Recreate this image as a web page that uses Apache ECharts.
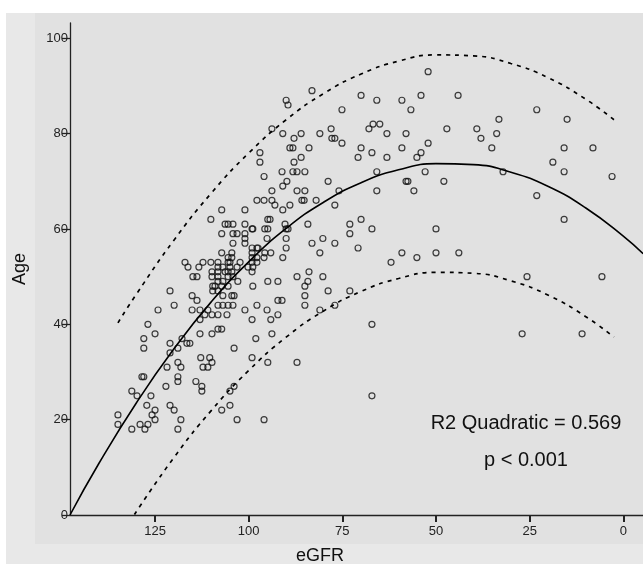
<!DOCTYPE html>
<html>
<head>
<meta charset="utf-8">
<title>Age vs eGFR</title>
<script src="https://cdn.jsdelivr.net/npm/echarts@6/dist/echarts.min.js"></script>
<style>
  html, body { margin: 0; padding: 0; background: #ffffff; }
  #chart { width: 643px; height: 564px; }
</style>
</head>
<body>
<div id="chart"></div>
<script>
// tick labels
var xTicks = [0, 25, 50, 75, 100, 125];
var yTicks = [0, 20, 40, 60, 80, 100];

// scatter points: [eGFR, Age]
var points = [
  [110.1, 62], [117.0, 53], [116.2, 52], [112.2, 53], [110.1, 53], [113.3, 52], [114.9, 50], [113.8, 50],
  [109.8, 51], [109.8, 50], [109.6, 48], [109.6, 47], [121.0, 47], [115.1, 46], [113.8, 45], [119.9, 44],
  [124.2, 43], [115.1, 43], [113.0, 43], [111.7, 42], [110.9, 43], [109.8, 42], [113.0, 41], [126.9, 40],
  [125.0, 38], [113.0, 38], [109.8, 38], [128.0, 37], [128.0, 35], [121.0, 36], [118.9, 35], [116.5, 36],
  [115.7, 36], [121.0, 34], [117.8, 37], [128.5, 29], [128.0, 29], [131.2, 26], [129.8, 25], [126.1, 25],
  [121.8, 31], [118.9, 32], [118.1, 31], [118.9, 29], [118.9, 28], [122.1, 27], [114.1, 28], [112.5, 27],
  [112.5, 26], [112.8, 33], [110.4, 33], [112.2, 31], [110.9, 31], [109.8, 32], [134.9, 21], [134.9, 19],
  [131.2, 18], [129.0, 19], [127.7, 18], [126.9, 19], [127.2, 23], [125.0, 22], [125.8, 21], [125.0, 20],
  [121.0, 23], [119.9, 22], [118.1, 20], [118.9, 18],
  [83.1, 89], [90.0, 87], [89.5, 86], [75.1, 85], [93.8, 81], [90.9, 80], [87.9, 79], [86.0, 80],
  [81.0, 80], [78.0, 81], [77.8, 79], [77.0, 79], [75.1, 78], [97.0, 76], [97.0, 74], [89.0, 77],
  [88.2, 77], [83.9, 77], [86.0, 75], [87.9, 74], [95.9, 71], [91.1, 72], [88.2, 72], [87.1, 72],
  [85.0, 72], [89.8, 70], [90.9, 69], [78.8, 70], [93.8, 68], [87.1, 68], [85.0, 68], [75.9, 68],
  [97.8, 66], [95.9, 66], [93.8, 66], [85.8, 66], [85.2, 66], [82.0, 66], [77.0, 65], [107.2, 64],
  [101.0, 64], [93.0, 65], [90.9, 64], [89.0, 65], [94.9, 62], [94.3, 62], [106.3, 61], [105.5, 61],
  [104.2, 61], [101.0, 61], [90.3, 61], [84.2, 61], [107.2, 59], [104.2, 59], [103.1, 59], [101.0, 59],
  [99.1, 60], [98.9, 60], [95.7, 60], [94.9, 60], [90.0, 60], [89.5, 60], [101.0, 58], [95.1, 58],
  [90.0, 58], [80.2, 58], [83.1, 57], [77.0, 57], [104.2, 57], [101.0, 57], [99.1, 56], [97.8, 56],
  [97.5, 56], [90.0, 56], [107.2, 55], [104.5, 55], [99.1, 55], [95.7, 55], [94.1, 55], [81.0, 55],
  [105.5, 54], [104.5, 54], [99.1, 54], [97.8, 54], [95.9, 54], [90.9, 54], [108.2, 53], [105.5, 53],
  [105.0, 53], [102.3, 53], [99.1, 53], [97.8, 53], [108.2, 52], [106.9, 52], [105.0, 52], [103.1, 52],
  [100.2, 52], [98.9, 52], [108.2, 51], [106.3, 51], [105.5, 51], [104.5, 51], [99.1, 51], [108.2, 50],
  [105.5, 50], [104.2, 50], [108.2, 49], [106.9, 49], [102.9, 49], [109.0, 48], [107.2, 48], [105.5, 48],
  [108.2, 47], [106.9, 46], [104.5, 46], [103.9, 46], [108.2, 44], [106.9, 44], [105.5, 44], [104.2, 44],
  [108.2, 42], [105.8, 42], [108.2, 39], [107.2, 39], [87.1, 50], [83.9, 51], [84.2, 49], [85.0, 48],
  [80.2, 50], [78.8, 47], [85.0, 46], [85.0, 44], [98.9, 48], [94.9, 49], [92.2, 49], [92.2, 45],
  [91.1, 45], [97.8, 44], [101.0, 43], [95.1, 43], [92.2, 42], [99.1, 41], [94.1, 41], [81.0, 43],
  [93.8, 38], [103.9, 35], [98.1, 37], [99.1, 33], [94.9, 32], [87.1, 32], [103.9, 27], [105.0, 26],
  [105.0, 23], [107.2, 22], [103.1, 20], [95.9, 20],
  [52.1, 93], [70.0, 88], [65.8, 87], [59.1, 87], [54.0, 88], [44.1, 88], [56.7, 85], [33.2, 83],
  [23.1, 85], [15.0, 83], [66.8, 82], [65.0, 82], [67.9, 81], [63.1, 80], [58.0, 80], [47.1, 81],
  [39.1, 81], [38.0, 79], [33.8, 80], [70.0, 77], [70.8, 75], [67.1, 76], [63.1, 75], [59.1, 77],
  [54.0, 76], [55.1, 75], [52.1, 78], [35.1, 77], [15.8, 77], [8.1, 77], [18.8, 74], [15.8, 72],
  [3.0, 71], [65.8, 72], [65.8, 68], [58.0, 70], [57.5, 70], [55.9, 68], [52.9, 72], [47.9, 70],
  [32.1, 72], [23.1, 67], [15.8, 62], [73.0, 61], [73.0, 59], [70.0, 62], [67.1, 60], [70.8, 56],
  [50.0, 60], [59.1, 55], [62.0, 53], [55.1, 54], [50.0, 55], [43.9, 55], [25.7, 50], [5.7, 50],
  [73.0, 47], [77.0, 44], [67.1, 40], [27.0, 38], [11.0, 38], [67.1, 25]
];

// quadratic fit line
var fitEgfr = [147.7, 140, 130, 120, 110, 100, 90, 80, 70, 60, 50, 40, 30, 20, 10, 0, -5.3];
var fitAge = [0, 10.8, 23.5, 34.8, 44.7, 53.1, 60.1, 65.6, 69.7, 72.4, 73.7, 73.5, 71.9, 68.9, 64.4, 58.5, 54.8];

// upper / lower prediction limits (dashed)
var upperEgfr = [134.9, 130, 120, 110, 100, 90, 80, 70, 60, 50, 40, 30, 20, 10, 2.5];
var upperAge = [40.3, 46.3, 57.6, 67.5, 75.9, 82.9, 88.4, 92.5, 95.2, 96.5, 96.3, 94.7, 91.7, 87.2, 82.9];
var lowerEgfr = [130.5, 120, 110, 100, 90, 80, 70, 60, 50, 40, 30, 20, 10, 2.5];
var lowerAge = [0.1, 12.0, 21.9, 30.3, 37.3, 42.8, 46.9, 49.6, 50.9, 50.7, 49.1, 46.1, 41.6, 37.3];

function pairs(xs, ys) {
  var out = [];
  for (var i = 0; i < xs.length; i++) {
    out.push([xs[i], ys[i]]);
  }
  return out;
}

var chart = echarts.init(document.getElementById('chart'), null, { renderer: 'canvas' });
var font = 'Arial, "Liberation Sans", sans-serif';

var option = {
  animation: false,
  backgroundColor: '#ffffff',
  grid: { left: 70, right: 0, top: 23, bottom: 49 },
  graphic: [
    // outer and inner panels
    { type: 'rect', z: -10, silent: true, shape: { x: 6, y: 13, width: 637, height: 551 }, style: { fill: '#e8e8e8' } },
    { type: 'rect', z: -9, silent: true, shape: { x: 35, y: 13, width: 608, height: 531 }, style: { fill: '#e1e1e1' } },
    { type: 'text', x: 20, y: 269, rotation: Math.PI / 2, silent: true,
      style: { text: 'Age', font: '18px ' + font, fill: '#111', textAlign: 'center', textVerticalAlign: 'middle' } },
    { type: 'text', x: 320, y: 556, silent: true,
      style: { text: 'eGFR', font: '18px ' + font, fill: '#111', textAlign: 'center', textVerticalAlign: 'middle' } },
    { type: 'text', x: 526, y: 423, silent: true,
      style: { text: 'R2 Quadratic = 0.569', font: '20px ' + font, fill: '#111', textAlign: 'center', textVerticalAlign: 'middle' } },
    { type: 'text', x: 526, y: 460, silent: true,
      style: { text: 'p < 0.001', font: '20px ' + font, fill: '#111', textAlign: 'center', textVerticalAlign: 'middle' } }
  ],
  xAxis: {
    type: 'value',
    inverse: true,
    min: -5.26,
    max: 147.7,
    splitLine: { show: false },
    axisLine: { show: true, onZero: false, lineStyle: { color: '#222', width: 1.3 } },
    axisTick: { show: true, inside: false, length: 7, customValues: xTicks, lineStyle: { color: '#222', width: 2 } },
    axisLabel: { customValues: xTicks, color: '#222', fontSize: 13, fontFamily: font, margin: 10 }
  },
  yAxis: {
    type: 'value',
    min: 0,
    max: 103.2,
    splitLine: { show: false },
    axisLine: { show: true, onZero: false, lineStyle: { color: '#222', width: 1.3 } },
    axisTick: { show: true, inside: false, length: 8, customValues: yTicks, lineStyle: { color: '#222', width: 1.3 } },
    axisLabel: { customValues: yTicks, color: '#222', fontSize: 13, fontFamily: font, margin: 2 }
  },
  series: [
    {
      type: 'scatter',
      data: points,
      symbol: 'circle',
      symbolSize: 6,
      itemStyle: { color: 'rgba(0,0,0,0)', borderColor: '#111', borderWidth: 1.2 },
      emphasis: { disabled: true }
    },
    {
      type: 'line',
      data: pairs(fitEgfr, fitAge),
      smooth: true,
      showSymbol: false,
      symbol: 'none',
      lineStyle: { color: '#000', width: 1.6 },
      emphasis: { disabled: true }
    },
    {
      type: 'line',
      data: pairs(upperEgfr, upperAge),
      smooth: true,
      symbol: 'none',
      lineStyle: { color: '#000', width: 1.7, type: [4, 5] },
      emphasis: { disabled: true }
    },
    {
      type: 'line',
      data: pairs(lowerEgfr, lowerAge),
      smooth: true,
      symbol: 'none',
      lineStyle: { color: '#000', width: 1.7, type: [4, 5] },
      emphasis: { disabled: true }
    }
  ]
};

chart.setOption(option);
</script>
</body>
</html>
